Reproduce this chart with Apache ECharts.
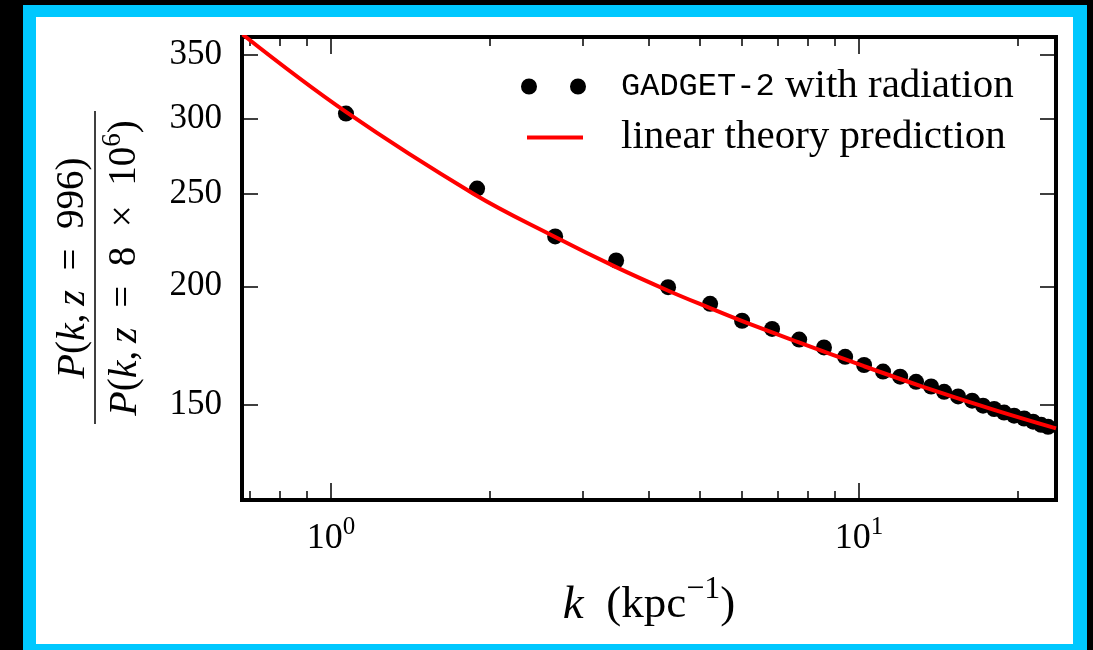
<!DOCTYPE html>
<html>
<head>
<meta charset="utf-8">
<script src="https://cdn.jsdelivr.net/npm/echarts@6/dist/echarts.min.js"></script>
<style>
  html, body { margin: 0; padding: 0; background: #000; width: 1093px; height: 650px; overflow: hidden; }
  #frame { position: absolute; left: 23px; top: 5px; width: 1064px; height: 645px; background: #00c8ff; }
  #panel { position: absolute; left: 36px; top: 17px; width: 1037px; height: 627px; background: #fff; }
  #chart { position: absolute; left: 0; top: 0; width: 1093px; height: 650px; }
</style>
</head>
<body>
<div id="frame"></div>
<div id="panel"></div>
<div id="chart"></div>
<script>
// Simulation: power-spectrum growth ratio per k bin
const kSim = [1.067, 1.890, 2.657, 3.466, 4.347, 5.222, 6.003, 6.842, 7.70, 8.58,
              9.41, 10.22, 11.10, 11.96, 12.82, 13.69, 14.49, 15.40, 16.37, 17.17,
              18.02, 18.82, 19.66, 20.54, 21.36, 22.12, 22.80];
const ratioSim = [303.9, 253.4, 225.7, 212.9, 199.6, 191.7, 184.0, 180.4, 175.8, 172.5,
                  168.6, 165.3, 162.7, 160.7, 158.7, 156.9, 154.9, 153.2, 151.6, 149.8,
                  148.6, 147.3, 146.2, 145.2, 144.1, 143.0, 142.3];

// Linear theory curve
const kTheory = [0.68, 1.067, 1.86, 2.657, 3.466, 4.34, 5.22, 6.01, 7.69, 10.22, 13.22, 18.02, 23.6];
const ratioTheory = [368.0, 305.1, 250.3, 225.4, 209.5, 198.0, 189.7, 183.8, 174.6, 164.8, 156.8, 148.3, 141.8];

// Axis ranges and ticks
const xRange = [0.678, 23.6];
const yRange = [119.2, 365.8];
const xMajorTicks = [1, 10];
const xMinorTicks = [0.7, 0.8, 0.9, 2, 3, 4, 5, 6, 7, 8, 9, 20];
const yTicks = [150, 200, 250, 300, 350];

const seriesSimName = 'GADGET-2 with radiation';
const seriesTheoryName = 'linear theory prediction';

const SERIF = 'Liberation Serif';
const MONO = 'Liberation Mono';

const tickStyle = { color: '#000', width: 1.5 };
const spineStyle = { color: '#000', width: 4, cap: 'square' };

function xAxisDef(position, ticks, len, withLine, withLabels) {
  return {
    type: 'log', logBase: 10, min: xRange[0], max: xRange[1], position: position,
    axisLine: { show: withLine, lineStyle: spineStyle },
    axisTick: { show: true, inside: true, length: len, customValues: ticks, lineStyle: tickStyle },
    axisLabel: withLabels ? {
      show: true, customValues: ticks, margin: 15, color: '#000',
      formatter: v => '{b|10}{s|' + Math.round(Math.log10(v)) + '}',
      rich: {
        b: { fontSize: 36, fontFamily: SERIF, color: '#000', padding: [6, 0, 0, 0] },
        s: { fontSize: 25, fontFamily: SERIF, color: '#000', verticalAlign: 'top' }
      }
    } : { show: false },
    splitLine: { show: false },
    minorTick: { show: false }
  };
}

function yAxisDef(position, withLabels) {
  return {
    type: 'log', logBase: 10, min: yRange[0], max: yRange[1], position: position,
    axisLine: { show: true, lineStyle: spineStyle },
    axisTick: { show: true, inside: true, length: 16, customValues: yTicks, lineStyle: tickStyle },
    axisLabel: withLabels ? {
      show: true, customValues: yTicks, margin: 20, color: '#000',
      fontSize: 35, fontFamily: SERIF, formatter: v => String(Math.round(v))
    } : { show: false },
    splitLine: { show: false }
  };
}

const xMain = xAxisDef('bottom', xMajorTicks, 17, true, true);
xMain.name = '{i|k}{r|\u2002(kpc}{s|\u22121}{r|)}';
xMain.nameLocation = 'middle';
xMain.nameGap = 74;
xMain.nameTextStyle = {
  color: '#000', fontSize: 45, fontFamily: SERIF,
  rich: {
    i: { fontSize: 47, fontFamily: SERIF, fontStyle: 'italic', color: '#000', padding: [8, 0, 0, 0] },
    r: { fontSize: 45, fontFamily: SERIF, color: '#000', padding: [8, 0, 0, 0] },
    s: { fontSize: 32, fontFamily: SERIF, color: '#000', verticalAlign: 'top' }
  }
};

const fracRich = {
  i: { fontSize: 40, fontFamily: SERIF, fontStyle: 'italic', color: '#000', padding: [6, 0, 0, 0] },
  r: { fontSize: 39, fontFamily: SERIF, color: '#000', padding: [6, 0, 0, 0] },
  s: { fontSize: 27, fontFamily: SERIF, color: '#000', verticalAlign: 'top' }
};

const chart = echarts.init(document.getElementById('chart'), null, { renderer: 'canvas' });
chart.setOption({
  animation: false,
  backgroundColor: 'transparent',
  grid: { left: 242, top: 37, right: 37, bottom: 150, containLabel: false },
  xAxis: [
    xMain,
    xAxisDef('bottom', xMinorTicks, 9, false, false),
    xAxisDef('top', xMajorTicks, 17, true, false),
    xAxisDef('top', xMinorTicks, 9, false, false)
  ],
  yAxis: [
    yAxisDef('left', true),
    yAxisDef('right', false)
  ],
  legend: [
    {
      data: [{ name: seriesSimName,
               icon: 'path://M0,8a8,8 0 1,0 16,0a8,8 0 1,0 -16,0zM49,8a8,8 0 1,0 16,0a8,8 0 1,0 -16,0z' }],
      left: 521, top: 66, padding: 0, itemWidth: 65, itemHeight: 16,
      formatter: () => '{m|GADGET-2} with radiation',
      textStyle: {
        color: '#000', fontSize: 41, fontFamily: SERIF, padding: [0, 0, 0, 30],
        rich: { m: { fontSize: 32, fontFamily: MONO, color: '#000' } }
      }
    },
    {
      data: [{ name: seriesTheoryName, icon: 'rect' }],
      left: 527, top: 117, padding: 0, itemWidth: 56, itemHeight: 4,
      textStyle: { color: '#000', fontSize: 41, fontFamily: SERIF, padding: [0, 0, 0, 33] }
    }
  ],
  graphic: [{
    type: 'group', x: 95, y: 268, rotation: Math.PI / 2,
    children: [
      { type: 'text', style: {
          text: '{i|P}{r|(}{i|k}{r|,\u2009}{i|z}{r|\u2002=\u2002996)}',
          x: 0, y: -25, align: 'center', verticalAlign: 'middle', rich: fracRich } },
      { type: 'line', shape: { x1: -156, y1: 0, x2: 157, y2: 0 },
        style: { stroke: '#000', lineWidth: 1.5 } },
      { type: 'text', style: {
          text: '{i|P}{r|(}{i|k}{r|,\u2009}{i|z}{r|\u2002=\u20028\u2002\u00d7\u200210}{s|6}{r|)}',
          x: 0, y: 27, align: 'center', verticalAlign: 'middle', rich: fracRich } }
    ]
  }],
  series: [
    {
      name: seriesSimName, type: 'scatter', xAxisIndex: 0, yAxisIndex: 0,
      symbol: 'circle', symbolSize: 16, itemStyle: { color: '#000', opacity: 1 },
      data: kSim.map((k, i) => [k, ratioSim[i]]), z: 2
    },
    {
      name: seriesTheoryName, type: 'line', xAxisIndex: 0, yAxisIndex: 0,
      showSymbol: false, smooth: 0.4, clip: true,
      lineStyle: { color: '#ff0000', width: 4 }, itemStyle: { color: '#ff0000' },
      data: kTheory.map((k, i) => [k, ratioTheory[i]]), z: 3
    }
  ]
});
</script>
</body>
</html>
